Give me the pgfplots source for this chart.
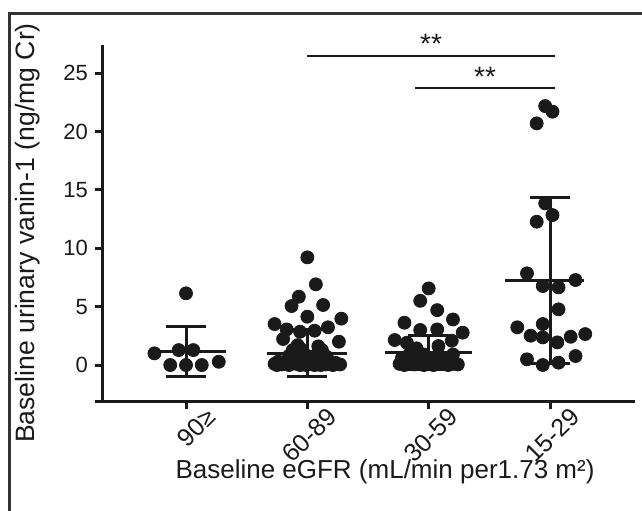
\documentclass[border=0pt]{standalone}
\usepackage{fontspec}
\setmainfont{Liberation Sans}
\usepackage{pgfplots}
\pgfplotsset{compat=1.18}
\definecolor{ink}{HTML}{1A1A1A}
\definecolor{framec}{HTML}{333333}
\begin{document}
\begin{tikzpicture}
\begin{axis}[
  scale only axis, width=266pt, height=178pt,
  xmin=-0.684, xmax=3.70, ymin=-3.08, ymax=27.4,
  axis x line*=bottom, axis y line*=left,
  axis line style={line width=1.5pt, ink, -},
  tick style={line width=1.5pt, ink},
  tick align=outside, major tick length=4pt,
  xtick={0,1,2,3}, xticklabels={90≥,60-89,30-59,15-29},
  ytick={0,5,10,15,20,25},
  /pgf/number format/assume math mode=true,
  yticklabel style={font=\fontsize{11}{13}\selectfont, text=ink},
  xticklabel style={font=\fontsize{12.5}{14}\selectfont, text=ink,
    rotate=45, anchor=east, xshift=11pt, yshift=-10pt},
  xlabel={Baseline eGFR (mL/min per1.73 m²)},
  ylabel={Baseline urinary vanin-1 (ng/mg Cr)},
  xlabel style={font=\fontsize{13}{15}\selectfont, text=ink, at={(axis cs:1.64,-3.08)}, anchor=center, yshift=-35.5pt},
  ylabel style={font=\fontsize{13.3}{15}\selectfont, text=ink, at={(axis cs:-0.684,11.3)}, anchor=center, yshift=37.5pt},
  clip=false,
]
\coordinate (O) at (axis cs:-0.684,-3.08);

% 90>=
\addplot[only marks, mark=*, mark size=3.25pt, ink] coordinates {
  (0,6.14) (-0.26,1.0) (-0.06,1.28) (0.06,1.28) (-0.13,0.0) (0,0.0) (0.13,0.0) (0.27,0.28)
};
% 60-89
\addplot[only marks, mark=*, mark size=3.25pt, ink] coordinates {
  (1.0,9.22) (1.07,6.91) (0.93,5.85) (0.87,5.05) (1.13,5.14) (1.0,4.14) (1.28,3.97)
  (0.73,3.51) (0.83,3.05) (0.94,2.85) (1.06,2.94) (1.17,3.23) (0.80,2.23) (1.26,2.0)
  (0.88,1.28) (0.94,1.43) (1.12,1.28) (0.92,1.7) (1.09,1.6)
  (0.85,0.8) (0.92,0.7) (0.98,0.9) (1.05,0.75) (1.1,0.9) (1.16,0.7)
  (0.73,0.1) (0.76,0.3) (0.79,0.05) (0.82,0.2) (0.85,0.0) (0.88,0.4) (0.91,0.1)
  (0.94,0.0) (0.97,0.25) (1.0,0.05) (1.03,0.3) (1.06,0.0) (1.09,0.15) (1.12,0.35)
  (1.15,0.05) (1.18,0.2) (1.21,0.0) (1.24,0.1) (1.27,0.05)
  (0.75,0.0) (0.81,0.1) (0.87,0.15) (0.93,0.2) (0.99,0.0) (1.05,0.1) (1.11,0.0)
  (1.17,0.1) (1.23,0.2) (0.90,0.5) (1.02,0.55) (1.14,0.5)
};
% 30-59
\addplot[only marks, mark=*, mark size=3.25pt, ink] coordinates {
  (2.0,6.56) (1.93,5.5) (2.07,4.7) (2.20,3.9) (1.80,3.62) (1.93,3.0) (2.07,3.05)
  (2.28,2.77) (1.72,2.14) (1.82,1.91) (2.19,2.08) (1.90,1.43) (2.08,1.63)
  (1.76,0.1) (1.80,0.0) (1.84,0.2) (1.88,0.05) (1.92,0.1) (1.96,0.0) (2.0,0.15)
  (2.04,0.0) (2.08,0.1) (2.12,0.2) (2.16,0.0) (2.20,0.1) (2.24,0.05)
  (1.78,0.6) (1.84,0.9) (1.90,0.6) (1.96,0.9) (2.02,0.6) (2.08,0.9) (2.14,0.6) (2.2,0.9)
};
% 15-29
\addplot[only marks, mark=*, mark size=3.25pt, ink] coordinates {
  (2.96,22.17) (3.02,21.69) (2.89,20.69) (2.96,13.84) (3.02,12.84) (2.89,12.27)
  (2.81,7.85) (3.21,7.28) (2.94,6.76) (3.07,6.65) (3.07,4.77) (2.94,3.51)
  (2.73,3.23) (2.84,2.51) (2.94,2.37) (3.06,1.94) (3.17,2.42) (3.29,2.65)
  (2.81,0.49) (2.94,0.0) (3.07,0.2) (3.21,0.77)
};
% mean and SD
\addplot[ink, line width=1.5pt, mark=none, unbounded coords=jump] coordinates {
  (-0.31,1.2) (0.33,1.2) (0,nan)
  (0,3.34) (0,-0.94) (0,nan)
  (-0.165,3.34) (0.165,3.34) (0,nan)
  (-0.165,-0.94) (0.165,-0.94) (0,nan)
  (0.67,1.0) (1.33,1.0) (0,nan)
  (1,3.0) (1,-1.0) (0,nan)
  (0.835,3.0) (1.165,3.0) (0,nan)
  (0.835,-1.0) (1.165,-1.0) (0,nan)
  (1.64,1.1) (2.36,1.1) (0,nan)
  (2,2.55) (2,-0.35) (0,nan)
  (1.83,2.55) (2.17,2.55) (0,nan)
  (1.83,-0.35) (2.17,-0.35) (0,nan)
  (2.63,7.2) (3.28,7.2) (0,nan)
  (3,14.36) (3,0.09) (0,nan)
  (2.835,14.36) (3.165,14.36) (0,nan)
  (2.835,0.09) (3.165,0.09)
};
\draw[ink, line width=1.5pt] (axis cs:-0.75,-3.08) -- (axis cs:-0.684,-3.08);
% significance
\draw[ink, line width=1pt] (axis cs:1.0,26.5) -- (axis cs:3.04,26.5)
  node[midway, above=-3pt, font=\fontsize{14}{16}\selectfont, text=ink] {**};
\draw[ink, line width=1pt] (axis cs:1.89,23.7) -- (axis cs:3.04,23.7)
  node[midway, above=-3pt, font=\fontsize{14}{16}\selectfont, text=ink] {**};
\end{axis}
\pgfresetboundingbox
\path[use as bounding box] ([shift={(-51.5pt,-54.5pt)}]O) rectangle ([shift={(269.5pt,200.5pt)}]O);
\draw[framec, line width=1.5pt] ([shift={(-46.5pt,-60pt)}]O) -- ([shift={(-46.5pt,194pt)}]O) -- ([shift={(275pt,194pt)}]O);
\end{tikzpicture}
\end{document}
